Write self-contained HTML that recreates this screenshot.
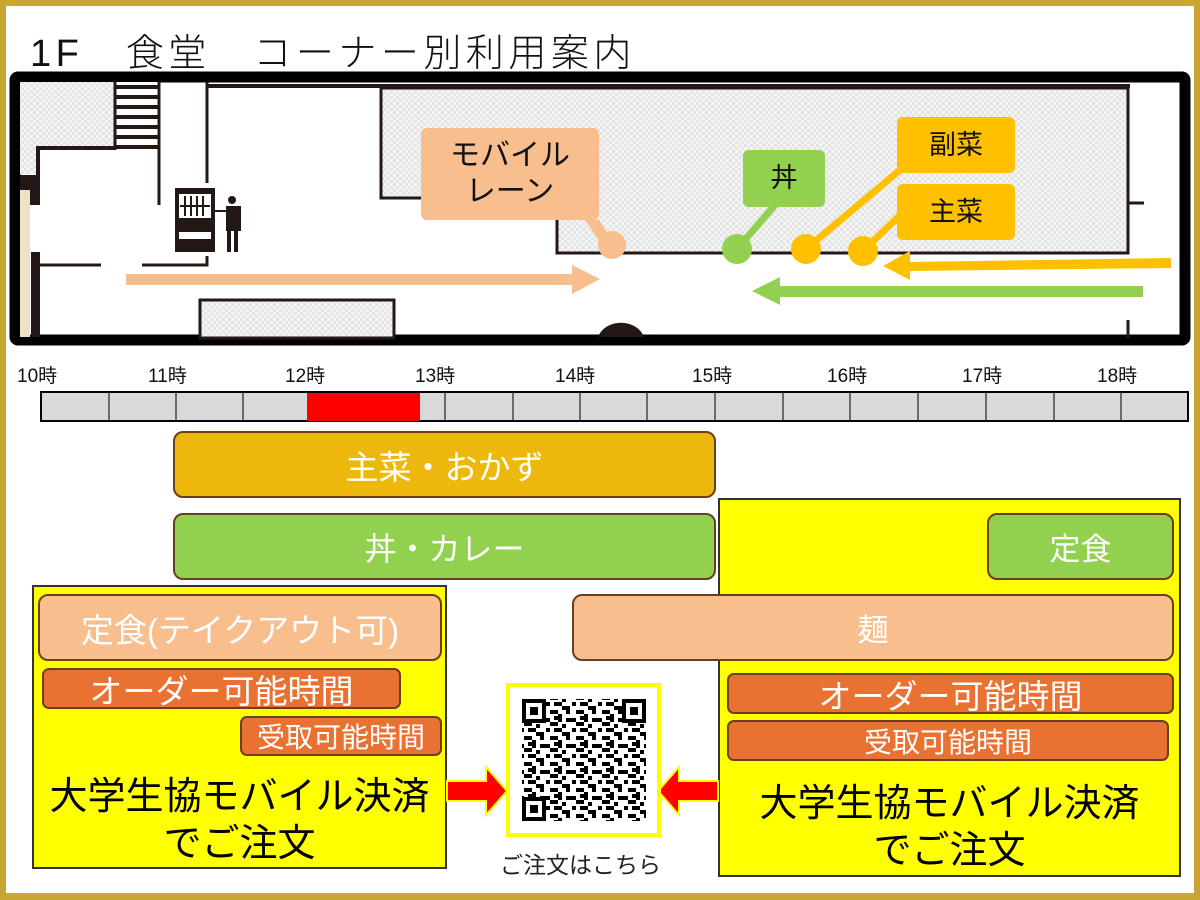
<!DOCTYPE html>
<html><head><meta charset="utf-8"><style>
*{margin:0;padding:0;box-sizing:border-box}
body{width:1200px;height:900px;position:relative;background:#fff;overflow:hidden;font-family:"Liberation Sans","Noto Sans CJK JP",sans-serif}
.frame{position:absolute;left:0;top:0;width:1200px;height:900px;border:6px solid #c9a532;border-bottom-width:7px}
.b{position:absolute;display:flex;align-items:center;justify-content:center;border:2px solid #6b3e1e;border-radius:10px;color:#fff;white-space:nowrap}
.t{position:absolute;white-space:nowrap}
.lbl{position:absolute;display:flex;align-items:center;justify-content:center;border-radius:6px;color:#111;text-align:center;line-height:1.2}
</style></head><body>
<div class="frame"></div>
<div class="t" style="left:30px;top:22px;font-size:38px;color:#111;letter-spacing:4.5px;font-weight:300">1F　食堂　コーナー別利用案内</div>

<svg style="position:absolute;left:0;top:0" width="1200" height="900">
<defs>
<pattern id="h" width="6" height="6" patternUnits="userSpaceOnUse"><rect width="6" height="6" fill="#f4f4f4"/><rect width="3" height="3" fill="#e4e4e4"/><rect x="3" y="3" width="3" height="3" fill="#e4e4e4"/></pattern>
<pattern id="q" width="26" height="26" patternUnits="userSpaceOnUse">
<rect width="26" height="26" fill="#fff"/>
<rect x="0" y="0" width="4" height="4"/><rect x="8" y="0" width="8" height="4"/><rect x="20" y="4" width="4" height="8"/><rect x="4" y="8" width="8" height="4"/><rect x="12" y="12" width="4" height="8"/><rect x="0" y="16" width="4" height="4"/><rect x="20" y="16" width="6" height="4"/><rect x="4" y="20" width="8" height="4"/><rect x="16" y="22" width="4" height="4"/><rect x="16" y="4" width="4" height="4"/><rect x="8" y="14" width="4" height="4"/>
</pattern>
</defs>
<rect x="15" y="77" width="1170" height="263" fill="#fff" stroke="#000" stroke-width="11" rx="3"/>
<rect x="20" y="82" width="95" height="66" fill="url(#h)"/>
<rect x="20" y="148" width="18" height="26" fill="url(#h)"/>
<path d="M38 175 V148 H115" fill="none" stroke="#231815" stroke-width="4"/>
<rect x="20" y="175" width="20" height="30" fill="#231815"/>
<rect x="20" y="190" width="10" height="147" fill="#ece3c6"/>
<rect x="31" y="252" width="9" height="85" fill="#231815"/>
<rect x="115" y="82" width="44" height="66" fill="#fff"/>
<g stroke="#231815" stroke-width="4"><line x1="115" y1="87" x2="159" y2="87"/><line x1="115" y1="97" x2="159" y2="97"/><line x1="115" y1="107" x2="159" y2="107"/><line x1="115" y1="117" x2="159" y2="117"/><line x1="115" y1="127" x2="159" y2="127"/><line x1="115" y1="137" x2="159" y2="137"/><line x1="115" y1="147" x2="159" y2="147"/></g>
<line x1="115" y1="82" x2="115" y2="150" stroke="#231815" stroke-width="3"/>
<line x1="159" y1="82" x2="159" y2="205" stroke="#231815" stroke-width="3"/>
<line x1="207" y1="82" x2="207" y2="183" stroke="#231815" stroke-width="3"/>
<line x1="207" y1="86" x2="1130" y2="86" stroke="#231815" stroke-width="4"/>
<path d="M40 265 H101 M142 265 H207 V256" fill="none" stroke="#231815" stroke-width="3"/>
<rect x="175" y="188" width="40" height="64" fill="#231815"/>
<rect x="179" y="194" width="32" height="24" fill="#fff"/><g stroke="#231815" stroke-width="2"><line x1="185" y1="196" x2="185" y2="216"/><line x1="191" y1="196" x2="191" y2="216"/><line x1="197" y1="196" x2="197" y2="216"/><line x1="203" y1="196" x2="203" y2="216"/><line x1="180" y1="206" x2="210" y2="206"/></g>
<rect x="179" y="232" width="32" height="7" fill="#fff"/>
<circle cx="232" cy="200" r="4" fill="#231815"/><rect x="226" y="206" width="15" height="25" fill="#231815"/><rect x="227" y="226" width="4" height="26" fill="#231815"/><rect x="234" y="226" width="4" height="26" fill="#231815"/><line x1="213" y1="211" x2="228" y2="211" stroke="#231815" stroke-width="2"/>
<rect x="200" y="300" width="194" height="38" fill="url(#h)" stroke="#231815" stroke-width="3"/>
<path d="M381 88 V198 H557 V253 H1128 V88 Z" fill="url(#h)" stroke="#231815" stroke-width="3"/>
<line x1="1128" y1="203" x2="1144" y2="203" stroke="#231815" stroke-width="3"/>
<line x1="1128" y1="320" x2="1128" y2="338" stroke="#231815" stroke-width="3"/>
<path d="M598 337 A24 20 0 0 1 644 337 Z" fill="#231815"/>
<rect x="126" y="274" width="450" height="11" fill="#f8be8e"/><polygon points="572,265 600,279 572,294" fill="#f8be8e"/>
<polygon points="1171,258 1171,268 908,271 908,262" fill="#ffc000"/><polygon points="910,251 883,266 910,280" fill="#ffc000"/>
<rect x="778" y="286" width="365" height="11" fill="#92d050"/><polygon points="780,277 752,291 780,305" fill="#92d050"/>
<polygon points="585,220 599,220 612,240 604,248" fill="#f8be8e"/><circle cx="612" cy="245" r="14" fill="#f8be8e"/>
<line x1="775" y1="205" x2="737" y2="249" stroke="#92d050" stroke-width="7"/><circle cx="737" cy="249" r="15" fill="#92d050"/>
<line x1="900" y1="170" x2="806" y2="249" stroke="#ffc000" stroke-width="7"/><circle cx="806" cy="249" r="15" fill="#ffc000"/>
<line x1="900" y1="215" x2="863" y2="251" stroke="#ffc000" stroke-width="7"/><circle cx="863" cy="251" r="15" fill="#ffc000"/>
<rect x="41" y="392" width="1147" height="29" fill="#d9d9d9" stroke="#000" stroke-width="2"/>
<rect x="307" y="393" width="113" height="28" fill="#f00"/>
<g stroke="#222" stroke-width="1.2"><line x1="109" y1="392" x2="109" y2="421"/><line x1="176" y1="392" x2="176" y2="421"/><line x1="243" y1="392" x2="243" y2="421"/><line x1="445" y1="392" x2="445" y2="421"/><line x1="513" y1="392" x2="513" y2="421"/><line x1="580" y1="392" x2="580" y2="421"/><line x1="647" y1="392" x2="647" y2="421"/><line x1="715" y1="392" x2="715" y2="421"/><line x1="783" y1="392" x2="783" y2="421"/><line x1="850" y1="392" x2="850" y2="421"/><line x1="918" y1="392" x2="918" y2="421"/><line x1="986" y1="392" x2="986" y2="421"/><line x1="1054" y1="392" x2="1054" y2="421"/><line x1="1121" y1="392" x2="1121" y2="421"/></g>
<g font-size="19" fill="#111" font-family="Liberation Sans,Noto Sans CJK JP,sans-serif"><text x="17" y="382">10時</text><text x="148" y="382">11時</text><text x="285" y="382">12時</text><text x="415" y="382">13時</text><text x="555" y="382">14時</text><text x="692" y="382">15時</text><text x="827" y="382">16時</text><text x="962" y="382">17時</text><text x="1097" y="382">18時</text></g>
<rect x="33" y="586" width="413" height="282" fill="#ff0" stroke="#333" stroke-width="2"/>
<rect x="719" y="499" width="461" height="377" fill="#ff0" stroke="#333" stroke-width="2"/>
<polygon points="447,781 486,781 486,767 507,791 486,815 486,801 447,801" fill="#f00" stroke="#ff0" stroke-width="2"/>
<polygon points="718,781 679,781 679,767 658,791 679,815 679,801 718,801" fill="#f00" stroke="#ff0" stroke-width="2"/>
<rect x="508" y="685" width="151" height="150" fill="#fff" stroke="#ff0" stroke-width="4"/>
<rect x="522" y="699" width="124" height="122" fill="url(#q)"/>
<g fill="#fff" stroke="#000" stroke-width="4"><rect x="524" y="701" width="20" height="20"/><rect x="624" y="701" width="20" height="20"/><rect x="524" y="799" width="20" height="20"/></g>
<g fill="#000"><rect x="530" y="707" width="8" height="8"/><rect x="630" y="707" width="8" height="8"/><rect x="530" y="805" width="8" height="8"/></g>
</svg>

<div class="lbl" style="left:421px;top:128px;width:178px;height:92px;background:#f8be8e;font-size:30px">モバイル<br>レーン</div>
<div class="lbl" style="left:743px;top:150px;width:82px;height:57px;background:#92d050;font-size:27px">丼</div>
<div class="lbl" style="left:897px;top:117px;width:118px;height:56px;background:#ffc000;font-size:27px">副菜</div>
<div class="lbl" style="left:897px;top:184px;width:118px;height:56px;background:#ffc000;font-size:27px">主菜</div>

<div class="b" style="left:173px;top:431px;width:543px;height:67px;background:#edb80c;font-size:33px">主菜・おかず</div>
<div class="b" style="left:173px;top:513px;width:543px;height:67px;background:#92d050;font-size:32px">丼・カレー</div>
<div class="b" style="left:987px;top:513px;width:187px;height:67px;background:#92d050;font-size:31px">定食</div>
<div class="b" style="left:38px;top:594px;width:404px;height:67px;background:#f8be8e;font-size:33px">定食(テイクアウト可)</div>
<div class="b" style="left:572px;top:594px;width:602px;height:67px;background:#f8be8e;font-size:31px">麺</div>
<div class="b" style="left:42px;top:668px;width:359px;height:41px;background:#e97132;font-size:33px;border-radius:7px">オーダー可能時間</div>
<div class="b" style="left:240px;top:716px;width:202px;height:40px;background:#e97132;font-size:28px;border-radius:7px">受取可能時間</div>
<div class="b" style="left:727px;top:673px;width:447px;height:41px;background:#e97132;font-size:33px;border-radius:7px">オーダー可能時間</div>
<div class="b" style="left:727px;top:720px;width:442px;height:41px;background:#e97132;font-size:28px;border-radius:7px">受取可能時間</div>

<div class="t" style="left:33px;top:774px;width:413px;text-align:center;font-size:38px;line-height:47px;color:#000">大学生協モバイル決済<br>でご注文</div>
<div class="t" style="left:719px;top:781px;width:461px;text-align:center;font-size:38px;line-height:47px;color:#000">大学生協モバイル決済<br>でご注文</div>
<div class="t" style="left:500px;top:846px;font-size:23px;color:#222">ご注文はこちら</div>
</body></html>
